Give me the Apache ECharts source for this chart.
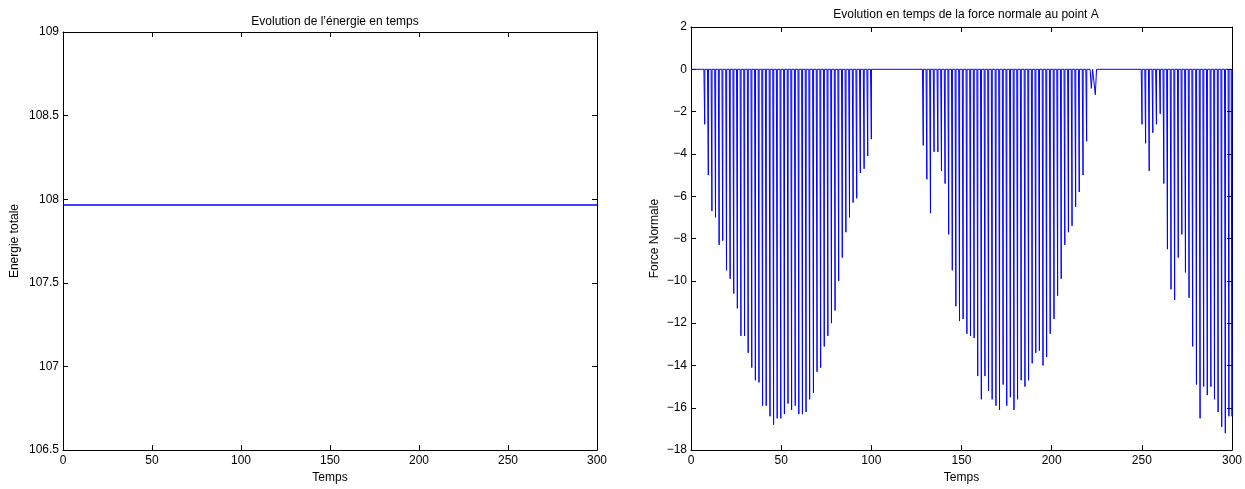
<!DOCTYPE html>
<html>
<head>
<meta charset="utf-8">
<script src="https://cdn.jsdelivr.net/npm/echarts@6/dist/echarts.min.js"></script>
<style>
html,body{margin:0;padding:0;background:#fff;}
#chart{width:1245px;height:489px;}
</style>
</head>
<body>
<div id="chart"></div>
<script>
// ---------- data ----------
const energyTimes = [0, 300];
const energyValues = [107.965, 107.965];

const spikeTimes1 = [7.6, 9.6, 11.6, 13.6, 15.6, 17.6, 19.7, 21.7, 23.7, 25.7, 27.7, 29.7, 31.7, 33.7, 35.7, 37.7, 39.7, 41.7, 43.8, 45.8, 47.8, 49.8, 51.8, 53.8, 55.8, 57.8, 59.8, 61.8, 63.8, 65.8, 67.9, 69.9, 71.9, 73.9, 75.9, 77.9, 79.9, 81.9, 83.9, 85.9, 87.9, 89.9, 91.9, 93.9, 96.0, 98.0, 100.0];
const spikeValues1 = [-2.6, -5.0, -6.7, -7.0, -8.3, -8.1, -9.5, -9.9, -10.6, -11.3, -12.6, -12.6, -13.4, -14.1, -14.7, -14.8, -15.9, -15.9, -16.4, -16.8, -16.5, -16.5, -16.3, -15.8, -16.1, -15.9, -16.3, -16.3, -16.2, -15.6, -15.3, -14.3, -14.1, -13.1, -12.6, -12.0, -11.4, -10.0, -8.9, -7.7, -7.0, -6.3, -6.1, -4.9, -4.7, -4.1, -3.3];

const spikeTimes2 = [128.8, 130.8, 132.8, 134.8, 136.9, 138.9, 140.9, 142.9, 144.9, 146.9, 148.9, 150.9, 153.0, 155.0, 157.0, 159.0, 161.0, 163.0, 165.0, 167.0, 169.1, 171.1, 173.1, 175.1, 177.1, 179.1, 181.1, 183.1, 185.2, 187.2, 189.2, 191.2, 193.2, 195.2, 197.2, 199.2, 201.3, 203.3, 205.3, 207.3, 209.3, 211.3, 213.3, 215.3, 217.4, 219.4];
const spikeValues2 = [-3.6, -5.2, -6.8, -3.9, -3.9, -4.8, -5.4, -7.8, -9.5, -11.2, -11.9, -11.8, -12.5, -12.6, -12.7, -14.5, -15.6, -14.5, -15.2, -15.6, -15.9, -16.1, -14.9, -15.9, -15.5, -16.1, -15.6, -14.7, -15.0, -14.7, -13.9, -13.4, -13.3, -14.0, -13.6, -12.5, -11.8, -10.7, -9.9, -8.3, -7.7, -7.4, -6.5, -5.8, -5.0, -3.4];

const dipTimes = [222.0, 224.2];
const dipValues = [-0.9, -1.2];

const spikeTimes3 = [250.1, 252.1, 254.1, 256.1, 258.1, 260.2, 262.2, 264.2, 266.2, 268.2, 270.2, 272.2, 274.2, 276.2, 278.2, 280.3, 282.3, 284.3, 286.3, 288.3, 290.3, 292.3, 294.3, 296.3, 298.3, 300.0];
const spikeValues3 = [-2.6, -3.5, -4.8, -3.0, -2.6, -2.1, -5.4, -8.5, -10.4, -10.9, -8.9, -7.8, -9.6, -10.8, -13.1, -14.9, -16.5, -15.0, -15.4, -15.0, -15.6, -16.2, -16.9, -17.2, -16.4, -16.4];

const xTicks = [0, 50, 100, 150, 200, 250, 300];
const energyTicks = [106.5, 107, 107.5, 108, 108.5, 109];
const forceTicks = [2, 0, -2, -4, -6, -8, -10, -12, -14, -16, -18];

// ---------- build series ----------
const events = [];
function addSpikes(ts, vs, before, after) {
  for (let i = 0; i < ts.length; i++) events.push({t: ts[i], v: vs[i], b: before, a: after});
}
addSpikes(spikeTimes1, spikeValues1, 0.45, 0.08);
addSpikes(spikeTimes2, spikeValues2, 0.45, 0.08);
addSpikes(dipTimes, dipValues, 0.7, 0.7);
addSpikes(spikeTimes3, spikeValues3, 0.45, 0.08);
events.sort((p, q) => p.t - q.t);
const forceData = [[0, 0]];
events.forEach(e => {
  forceData.push([e.t - e.b, 0]);
  forceData.push([e.t, e.v]);
  forceData.push([e.t + e.a, 0]);
});
forceData.push([300, 0]);

const energyData = energyTimes.map((t, i) => [t, energyValues[i]]);

// ---------- chart ----------
const FONT = "'Liberation Sans', Arial, Helvetica, sans-serif";
const txt = {color: '#000', fontFamily: FONT, fontSize: 12};
const minus = v => String(v).replace('-', '\u2212');

function xAx(gi, pos, show) {
  return {
    type: 'value', gridIndex: gi, position: pos, min: xTicks[0], max: xTicks[xTicks.length - 1], interval: 50,
    name: show ? 'Temps' : '', nameLocation: 'middle', nameGap: 20,
    nameTextStyle: txt,
    axisLine: {show: true, onZero: false, lineStyle: {color: '#000', width: 1}},
    axisTick: {show: true, inside: true, length: 5, lineStyle: {color: '#000'}},
    axisLabel: {show: show, margin: 5, ...txt},
    splitLine: {show: false}
  };
}
function yAx(gi, pos, show, min, max, interval, name, gap, fmt) {
  return {
    type: 'value', gridIndex: gi, position: pos, min: min, max: max, interval: interval,
    name: show ? name : '', nameLocation: 'middle', nameGap: gap, nameRotate: 90,
    nameTextStyle: txt,
    axisLine: {show: true, onZero: false, lineStyle: {color: '#000', width: 1}},
    axisTick: {show: true, inside: true, length: 5, lineStyle: {color: '#000'}},
    axisLabel: {show: show, margin: 4, formatter: fmt, ...txt},
    splitLine: {show: false}
  };
}

const chart = echarts.init(document.getElementById('chart'), null, {renderer: 'canvas'});
chart.setOption({
  backgroundColor: '#fff',
  animation: false,
  title: [
    {text: 'Evolution de l\u2019énergie en temps', left: 330, top: 11, textAlign: 'center',
     textStyle: {...txt, fontWeight: 'normal'}},
    {text: 'Evolution en temps de la force normale au point A', left: 961, top: 4, textAlign: 'center',
     textStyle: {...txt, fontWeight: 'normal'}}
  ],
  grid: [
    {left: 63, top: 32, width: 534, height: 425},
    {left: 691, top: 27, width: 541, height: 428}
  ],
  xAxis: [
    xAx(0, 'bottom', true), xAx(0, 'top', false),
    xAx(1, 'bottom', true), xAx(1, 'top', false)
  ],
  yAxis: [
    yAx(0, 'left', true, energyTicks[0], energyTicks[energyTicks.length - 1], 0.5, 'Energie totale', 42, v => String(v)),
    yAx(0, 'right', false, energyTicks[0], energyTicks[energyTicks.length - 1], 0.5, '', 0, null),
    yAx(1, 'left', true, forceTicks[forceTicks.length - 1], forceTicks[0], 2, 'Force Normale', 30, minus),
    yAx(1, 'right', false, forceTicks[forceTicks.length - 1], forceTicks[0], 2, '', 0, null)
  ],
  series: [
    {type: 'line', xAxisIndex: 0, yAxisIndex: 0, data: energyData, showSymbol: false,
     lineStyle: {color: '#0000ff', width: 1.5}, itemStyle: {color: '#0000ff'}, z: 5},
    {type: 'line', xAxisIndex: 2, yAxisIndex: 2, data: forceData, showSymbol: false,
     lineStyle: {color: '#0000ff', width: 1}, itemStyle: {color: '#0000ff'}, clip: true}
  ]
});
</script>
</body>
</html>
